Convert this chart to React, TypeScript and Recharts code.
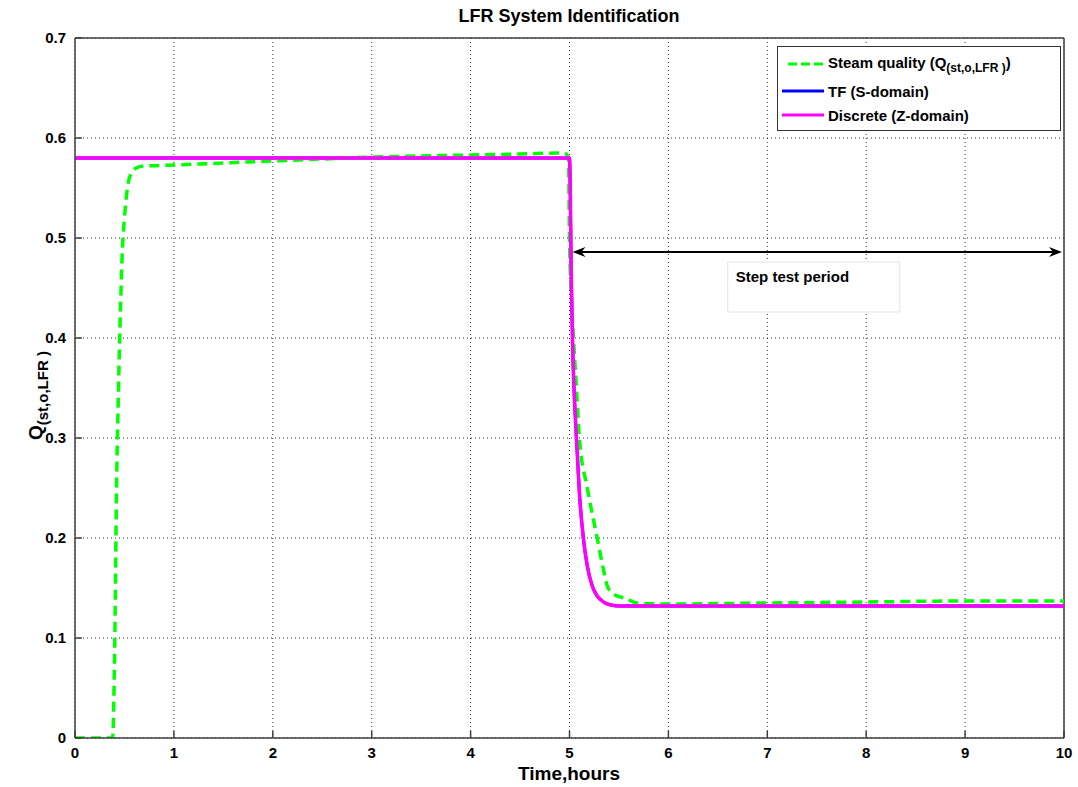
import React from 'react';
import {
  ComposedChart, Line, XAxis, YAxis, CartesianGrid, ReferenceLine, ReferenceArea,
} from 'recharts';

// measured steam quality (dashed green)
const steamTime = [0, 0.2, 0.38, 0.4, 0.42, 0.44, 0.46, 0.48, 0.5, 0.53, 0.57, 0.62, 0.7, 1, 1.5, 2, 2.5, 3, 3.5, 4, 4.5, 4.95, 4.99, 5.0, 5.03, 5.07, 5.1, 5.18, 5.28, 5.34, 5.39, 5.48, 5.56, 5.68, 6, 7, 8, 9, 10];
const steamValue = [0, 0, 0, 0.08, 0.25, 0.35, 0.43, 0.49, 0.52, 0.55, 0.565, 0.57, 0.572, 0.573, 0.575, 0.577, 0.579, 0.581, 0.582, 0.583, 0.584, 0.585, 0.58, 0.5, 0.42, 0.35, 0.3, 0.25, 0.2, 0.17, 0.15, 0.142, 0.14, 0.135, 0.134, 0.135, 0.136, 0.137, 0.137];

// identified model response (TF and discrete overlap)
const modelTime = [0, 1, 2, 3, 4, 5.0, 5.02, 5.03, 5.07, 5.1, 5.14, 5.18, 5.23, 5.28, 5.32, 5.36, 5.42, 5.5, 6, 7, 8, 9, 10];
const tfValue = [0.58, 0.58, 0.58, 0.58, 0.58, 0.58, 0.45, 0.4, 0.3, 0.245, 0.2, 0.172, 0.152, 0.142, 0.138, 0.135, 0.133, 0.132, 0.132, 0.132, 0.132, 0.132, 0.132];
const discreteValue = [0.58, 0.58, 0.58, 0.58, 0.58, 0.58, 0.45, 0.4, 0.3, 0.245, 0.2, 0.172, 0.152, 0.142, 0.138, 0.135, 0.133, 0.132, 0.132, 0.132, 0.132, 0.132, 0.132];

const xTicks = [0, 1, 2, 3, 4, 5, 6, 7, 8, 9, 10];
const yTicks = [0, 0.1, 0.2, 0.3, 0.4, 0.5, 0.6, 0.7];

const steamData = steamTime.map((t, i) => ({ t, v: steamValue[i] }));
const tfData = modelTime.map((t, i) => ({ t, v: tfValue[i] }));
const discreteData = modelTime.map((t, i) => ({ t, v: discreteValue[i] }));

const FONT = '"Liberation Sans", Arial, sans-serif';
const AXIS = '#404040';

const XTick = (props: any) => {
  const { x, y, payload } = props;
  return (
    <g>
      <line x1={x} x2={x} y1={y - 4} y2={y - 11} stroke={AXIS} strokeWidth={1.5} />
      <text x={x} y={y + 16} textAnchor="middle" fontFamily={FONT} fontWeight="bold" fontSize={15} fill="#000">
        {payload.value}
      </text>
    </g>
  );
};

const YTick = (props: any) => {
  const { x, y, payload } = props;
  return (
    <g>
      <line x1={x + 4} x2={x + 11} y1={y} y2={y} stroke={AXIS} strokeWidth={1.5} />
      <text x={x - 5} y={y + 5} textAnchor="end" fontFamily={FONT} fontWeight="bold" fontSize={15} fill="#000">
        {payload.value === 0 ? '0' : payload.value.toFixed(1)}
      </text>
    </g>
  );
};

const ArrowShape = (props: any) => {
  const { x1, y1, x2, y2 } = props;
  return (
    <g>
      <line x1={x1 + 6} y1={y1} x2={x2 - 6} y2={y2} stroke="#000" strokeWidth={2} />
      <polygon points={`${x1},${y1} ${x1 + 13},${y1 - 5} ${x1 + 9},${y1} ${x1 + 13},${y1 + 5}`} fill="#000" />
      <polygon points={`${x2},${y2} ${x2 - 13},${y2 - 5} ${x2 - 9},${y2} ${x2 - 13},${y2 + 5}`} fill="#000" />
    </g>
  );
};

const LegendBox = () => (
  <div style={{ position: 'absolute', top: 46, left: 777, width: 272, border: '1.5px solid #333', background: '#fff', padding: '2px 6px 3px 4px', fontFamily: FONT, fontWeight: 'bold', fontSize: 15, color: '#000', zIndex: 2 }}>
    <div style={{ display: 'flex', alignItems: 'center', height: 30 }}>
      <svg width={42} height={10} style={{ marginRight: 4 }}>
        <line x1={6} y1={5} x2={42} y2={5} stroke="#00ff00" strokeWidth={3} strokeDasharray="9 4" />
      </svg>
      <span>Steam quality (Q<sub style={{ fontSize: 12 }}>(st,o,LFR )</sub>)</span>
    </div>
    <div style={{ display: 'flex', alignItems: 'center', height: 24 }}>
      <svg width={42} height={10} style={{ marginRight: 4 }}>
        <line x1={0} y1={5} x2={42} y2={5} stroke="#0000ff" strokeWidth={3} />
      </svg>
      <span>TF (S-domain)</span>
    </div>
    <div style={{ display: 'flex', alignItems: 'center', height: 24 }}>
      <svg width={42} height={10} style={{ marginRight: 4 }}>
        <line x1={0} y1={5} x2={42} y2={5} stroke="#ff00ff" strokeWidth={3} />
      </svg>
      <span>Discrete (Z-domain)</span>
    </div>
  </div>
);

export default function App() {
  return (
    <div style={{ position: 'relative', width: 1078, height: 787, background: '#fff' }}>
      <style>{'body{margin:0}'}</style>
      <div style={{ position: 'absolute', top: 6, left: 0, width: 1138, textAlign: 'center', fontFamily: FONT, fontWeight: 'bold', fontSize: 18, zIndex: 2 }}>
        LFR System Identification
      </div>
      <LegendBox />
      <ComposedChart width={1078} height={787} margin={{ top: 38, right: 14, bottom: 0, left: 0 }}>
        <CartesianGrid stroke="#333" strokeDasharray="1 3" />
        <XAxis
          type="number" dataKey="t" domain={[0, 10]} ticks={xTicks} height={49}
          stroke={AXIS} strokeWidth={1.5} tickLine={false} tickSize={0} tickMargin={4} tick={<XTick />}
          allowDataOverflow
          label={{
            content: () => (
              <text x={569} y={780} textAnchor="middle" fontFamily={FONT} fontWeight="bold" fontSize={19} fill="#000">
                Time,hours
              </text>
            ),
          }}
        />
        <YAxis
          type="number" dataKey="v" domain={[0, 0.7]} ticks={yTicks} width={75}
          stroke={AXIS} strokeWidth={1.5} tickLine={false} tickSize={0} tickMargin={4} tick={<YTick />}
          allowDataOverflow
          label={{
            content: () => (
              <text transform="translate(42,440) rotate(-90)" fontFamily={FONT} fontWeight="bold" fontSize={19} fill="#000">
                Q<tspan fontSize={15} dy={6}>(st,o,LFR )</tspan>
              </text>
            ),
          }}
        />
        <ReferenceLine y={0.7} stroke={AXIS} strokeWidth={1.5} />
        <ReferenceLine x={10} stroke={AXIS} strokeWidth={1.5} />
        <ReferenceArea
          x1={6.6} x2={8.34} y1={0.426} y2={0.476} fill="#fff" fillOpacity={1} stroke="#e4e4e4" strokeWidth={1}
          label={{
            content: (p: any) => (
              <text x={p.viewBox.x + 8} y={p.viewBox.y + 20} fontFamily={FONT} fontWeight="bold" fontSize={15} fill="#000">
                Step test period
              </text>
            ),
          }}
        />
        <Line data={tfData} dataKey="v" type="monotone" stroke="#0000ff" strokeWidth={3} dot={false} isAnimationActive={false} />
        <Line data={steamData} dataKey="v" type="monotone" stroke="#00ff00" strokeWidth={3.5} strokeDasharray="10 6" dot={false} isAnimationActive={false} />
        <Line data={discreteData} dataKey="v" type="monotone" stroke="#ff00ff" strokeWidth={3.5} dot={false} isAnimationActive={false} />
        <ReferenceLine
          segment={[{ x: 5.03, y: 0.486 }, { x: 9.98, y: 0.486 }]}
          shape={<ArrowShape />}
        />
      </ComposedChart>
    </div>
  );
}
